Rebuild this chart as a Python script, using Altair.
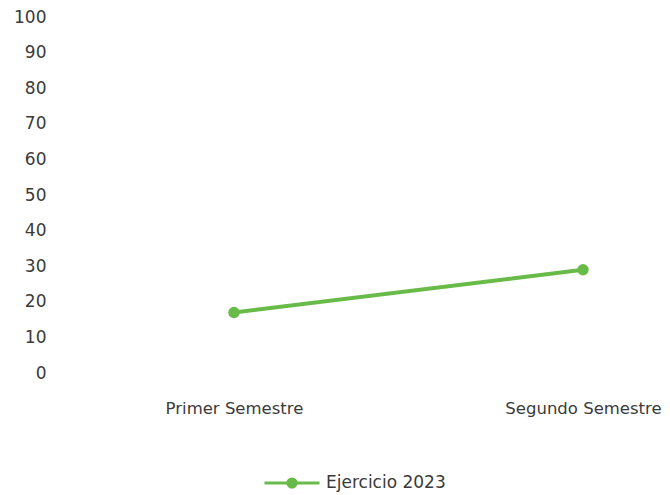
import altair as alt
import pandas as pd

categorias = ["Primer Semestre", "Segundo Semestre"]
valores = [17, 29]
serie = ["Ejercicio 2023", "Ejercicio 2023"]
y_ticks = [0, 10, 20, 30, 40, 50, 60, 70, 80, 90, 100]

df = pd.DataFrame({"Periodo": categorias, "Valor": valores, "Serie": serie})

GREEN = "#68bb48"
TEXT = "#3a3a3a"
FONT = "DejaVu Sans"

x = alt.X("Periodo:N", sort=categorias, title=None,
          scale=alt.Scale(type="point", range=[174, 523], padding=0),
          axis=alt.Axis(labelAngle=0, labelFont=FONT, labelFontSize=16.5, labelColor=TEXT,
                        domain=False, ticks=False, grid=False, labelPadding=27))
y = alt.Y("Valor:Q", title=None, scale=alt.Scale(domain=[0, 100], nice=False),
          axis=alt.Axis(values=y_ticks, labelFont=FONT, labelFontSize=17, labelColor=TEXT,
                        domain=False, ticks=False, grid=False, labelPadding=14))
color = alt.Color("Serie:N", scale=alt.Scale(domain=["Ejercicio 2023"], range=[GREEN]),
                  legend=alt.Legend(title=None, orient="none", legendX=203, legendY=437,
                                    symbolType="M-1,0H-0.15M0.15,0H1M-0.15,0A0.15,0.15 0 1 1 0.15,0A0.15,0.15 0 1 1 -0.15,0",
                                    symbolSize=3025, symbolStrokeWidth=3,
                                    symbolFillColor=GREEN, symbolStrokeColor=GREEN,
                                    labelFont=FONT, labelFontSize=17, labelColor=TEXT,
                                    labelOffset=5))

base = alt.Chart(df).encode(x=x, y=y, color=color)
line = base.mark_line(strokeWidth=4)
pts = base.mark_point(filled=True, size=130, opacity=1)

chart = (line + pts).properties(
    width=590, height=356,
    autosize=alt.AutoSizeParams(type="none"),
    padding={"left": 52, "top": 9, "right": 12, "bottom": 120},
).configure_view(stroke=None)

chart.save("out.html", embed_options={"renderer": "svg", "actions": False})
